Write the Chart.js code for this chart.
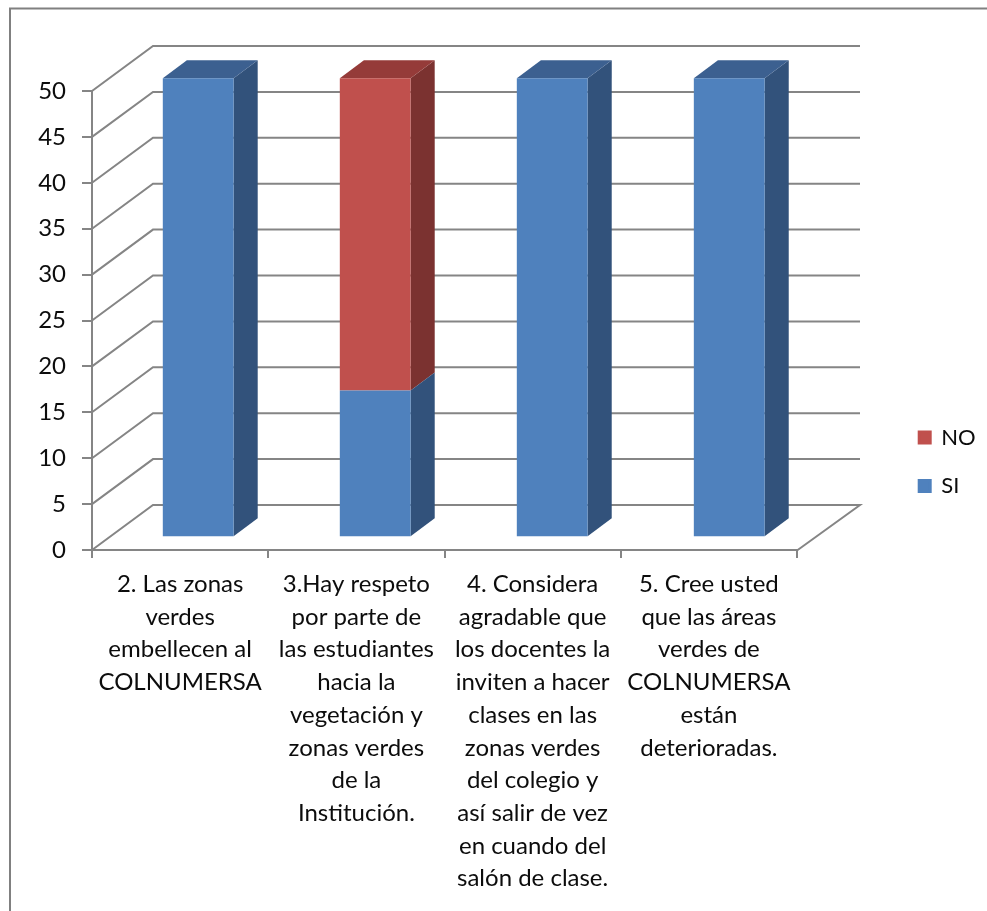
<!DOCTYPE html>
<html><head><meta charset="utf-8">
<script src="https://cdn.jsdelivr.net/npm/chart.js@4/dist/chart.umd.min.js"></script>
<style>html,body{margin:0;padding:0;background:#fff}#w{width:987px;height:911px;position:relative}canvas{filter:blur(0.45px)}</style>
</head><body><div id="w"><canvas id="c" width="987" height="911"></canvas></div>
<script>
const categories = [
  ["2. Las zonas","verdes","embellecen al","COLNUMERSA"],
  ["3.Hay respeto","por parte de","las estudiantes","hacia la","vegetación y","zonas verdes","de la","Institución."],
  ["4. Considera","agradable que","los docentes la","inviten a hacer","clases en las","zonas verdes","del colegio y","así salir de vez","en cuando del","salón de clase."],
  ["5. Cree usted","que las áreas","verdes de","COLNUMERSA","están","deterioradas."]
];
const siValues = [50, 16, 50, 50];
const noValues = [0, 34, 0, 0];
const seriesNames = ["SI", "NO"];
const yTicks = {min: 0, max: 50, step: 5};
const gridColor = "#858585", textColor = "#0c0c0c", fontFam = "Lato, Carlito, sans-serif", fontSize = 24, legendSize = 22;
const shades = [
  {front:"#4f81bd", side:"#32527b", top:"#3c6090"},
  {front:"#c0504d", side:"#7b3230", top:"#953b39"}
];
// 3-D projection offsets
const wall = {dx:61, dy:-45}, barFront = {dx:17.7, dy:-12.7, stretch:1.0043}, barDepth = {dx:24, dy:-18};

const scene = {
  id:"scene",
  afterLayout(ch){
    const l = ch.legend; if(!l) return;
    const p = l.options.labels.padding;
    const w = l.width, h = l.height;
    l.left = 919.2 - p; l.right = l.left + w; l.top = 426.5 - p; l.bottom = l.top + h;
  },
  beforeDatasetsDraw(ch){
    const c = ch.ctx, a = ch.chartArea, y = ch.scales.y;
    c.save();
    // outer frame
    c.strokeStyle = "#808080"; c.lineWidth = 2;
    c.beginPath(); c.moveTo(10,911); c.lineTo(10,8.5); c.lineTo(987,8.5); c.stroke();
    // walls
    c.strokeStyle = gridColor; c.lineWidth = 2;
    for(let v=yTicks.min; v<=yTicks.max; v+=yTicks.step){
      const py = y.getPixelForValue(v);
      c.beginPath();
      c.moveTo(a.left, py); c.lineTo(a.left+wall.dx, py+wall.dy); c.lineTo(a.right+wall.dx+2, py+wall.dy);
      if(v===0) c.lineTo(a.right, py+0.5);
      c.stroke();
    }
    c.restore();
  },
  beforeDatasetDraw(ch, args){
    const c = ch.ctx, meta = args.meta, idx = args.index, s = shades[idx], a = ch.chartArea;
    const nextVals = idx===0 ? noValues : null;
    c.save();
    c.translate(barFront.dx + a.left, barFront.dy);
    c.scale(barFront.stretch, 1);
    c.translate(-a.left, 0);
    meta.data.forEach((el,i)=>{
      const p = el.getProps(["x","y","base","width"], true);
      if(p.base===p.y) return;
      const L=p.x-p.width/2, R=p.x+p.width/2, d=barDepth;
      c.fillStyle=s.side; c.beginPath();
      c.moveTo(R,p.base); c.lineTo(R+d.dx,p.base+d.dy); c.lineTo(R+d.dx,p.y+d.dy); c.lineTo(R,p.y); c.closePath(); c.fill();
      if(!(nextVals && nextVals[i]>0)){
        c.fillStyle=s.top; c.beginPath();
        c.moveTo(L,p.y); c.lineTo(L+d.dx,p.y+d.dy); c.lineTo(R+d.dx,p.y+d.dy); c.lineTo(R,p.y); c.closePath(); c.fill();
      }
    });
  },
  afterDatasetDraw(ch){ ch.ctx.restore(); }
};

const chart = new Chart(document.getElementById("c"), {
  type:"bar",
  data:{labels:categories, datasets:[
    {label:seriesNames[0], data:siValues, backgroundColor:shades[0].front, clip:false},
    {label:seriesNames[1], data:noValues, backgroundColor:shades[1].front, clip:false}
  ]},
  options:{
    responsive:false, animation:false,
    layout:{padding:{top:91,right:100,bottom:0,left:0}},
    datasets:{bar:{barPercentage:0.4,categoryPercentage:1}},
    plugins:{
      title:{display:false}, tooltip:{enabled:false},
      legend:{position:"right",align:"start",reverse:true,
        labels:{boxWidth:11,boxHeight:11,padding:26.5,color:textColor,font:{family:fontFam,size:legendSize},
          generateLabels:ch=>Chart.defaults.plugins.legend.labels.generateLabels(ch).map(l=>({...l,lineWidth:3,strokeStyle:l.fillStyle}))}}
    },
    scales:{
      x:{stacked:true,
        afterFit(s){s.height=361;},
        border:{color:gridColor,width:2},
        grid:{drawOnChartArea:false,color:gridColor,lineWidth:2,tickLength:8},
        ticks:{autoSkip:false,maxRotation:0,minRotation:0,padding:10,color:textColor,font:{family:fontFam,size:fontSize,lineHeight:32.7/fontSize}}},
      y:{stacked:true,min:yTicks.min,max:yTicks.max,
        afterFit(s){s.width=92;},
        border:{color:gridColor,width:2},
        grid:{drawOnChartArea:false,color:gridColor,lineWidth:2,tickLength:10},
        ticks:{stepSize:yTicks.step,padding:16,color:textColor,font:{family:fontFam,size:fontSize}}}
    }
  },
  plugins:[scene]
});
chart.options.layout.padding.right = 190 - chart.legend.width;
chart.update("none");
</script></body></html>
